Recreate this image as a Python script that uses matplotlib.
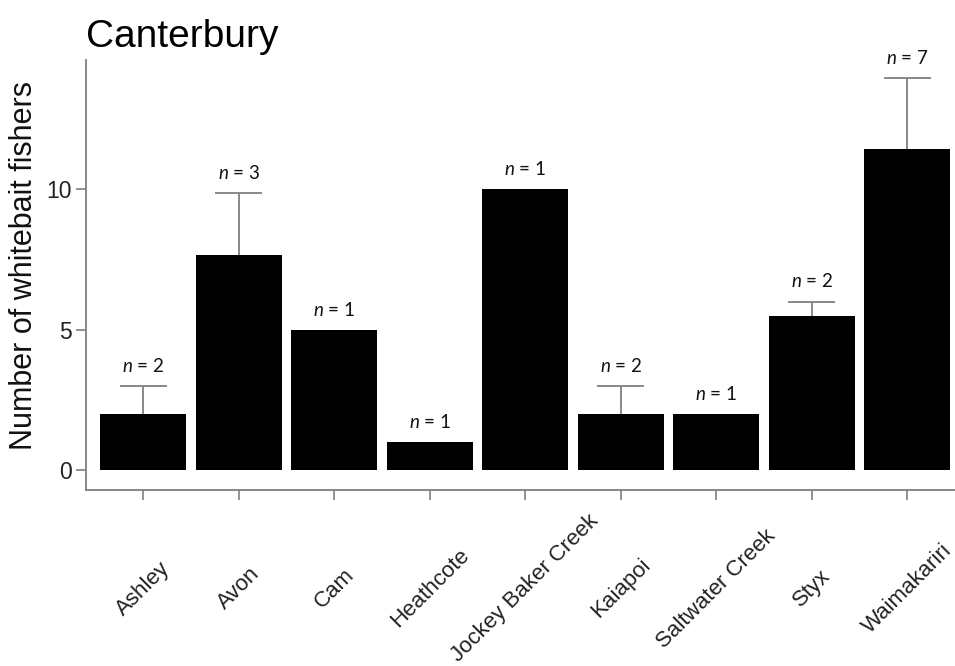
import matplotlib
matplotlib.use("Agg")
import matplotlib.pyplot as plt
import numpy as np

sites = ["Ashley", "Avon", "Cam", "Heathcote", "Jockey Baker Creek",
         "Kaiapoi", "Saltwater Creek", "Styx", "Waimakariri"]
means = [2, 7.67, 5, 1, 10, 2, 2, 5.5, 11.43]
err_up = [1, 2.19, 0, 0, 0, 1, 0, 0.5, 2.52]
n_vals = [2, 3, 1, 1, 1, 2, 1, 2, 7]
yticks = [0, 5, 10]

plt.rcParams['font.family'] = ['Liberation Sans', 'DejaVu Sans']
plt.rcParams['mathtext.fontset'] = 'custom'
plt.rcParams['mathtext.it'] = 'Lato:italic'
plt.rcParams['mathtext.rm'] = 'Lato'

W, H = 955, 666
fig = plt.figure(figsize=(W / 100, H / 100), dpi=100)
ax = fig.add_axes([86 / W, 176 / H, 869 / W, 430 / H])

x = np.arange(len(sites))
means_a = np.array(means)
err_a = np.array(err_up)
gray = '#808080'
has_err = err_a > 0
cap_half = 0.245
ax.vlines(x[has_err], means_a[has_err], (means_a + err_a)[has_err],
          color=gray, linewidth=1.3, zorder=1)
ax.hlines((means_a + err_a)[has_err], x[has_err] - cap_half, x[has_err] + cap_half,
          color=gray, linewidth=1.3, zorder=1)
ax.bar(x, means, width=0.9, color='black', zorder=2)

for xi, m, e, n in zip(x, means, err_up, n_vals):
    ax.annotate(f"$n$ = {n}", (xi, m + e), xytext=(0, 8), textcoords='offset points',
                ha='center', va='bottom', fontsize=13.5, family='Lato', color='#111111')

ax.set_xlim(-0.6, 8.5)
ax.set_ylim(-0.71, 14.6)
ax.set_yticks(yticks)
ax.set_yticklabels([str(t) for t in yticks], fontsize=16.5, color='#222222')
ax.set_xticks(x)
ax.set_xticklabels(sites, rotation=45, ha='center', va='center',
                   fontsize=16, color='#222222')
ax.tick_params(axis='x', length=7, width=1.2, color=gray, pad=64)
ax.tick_params(axis='y', length=7, width=1.2, color=gray, pad=3)

for s in ['top', 'right']:
    ax.spines[s].set_visible(False)
for s in ['left', 'bottom']:
    ax.spines[s].set_color(gray)
    ax.spines[s].set_linewidth(1.3)

fig.text(24 / W, 1 - 266 / H, "Number of whitebait fishers", rotation=90,
         ha='center', va='center', fontsize=22, color='#111111')
fig.text(86 / W, 1 - 47 / H, "Canterbury", ha='left', va='baseline',
         fontsize=28, color='black')

fig.savefig("out.png", dpi=100)
